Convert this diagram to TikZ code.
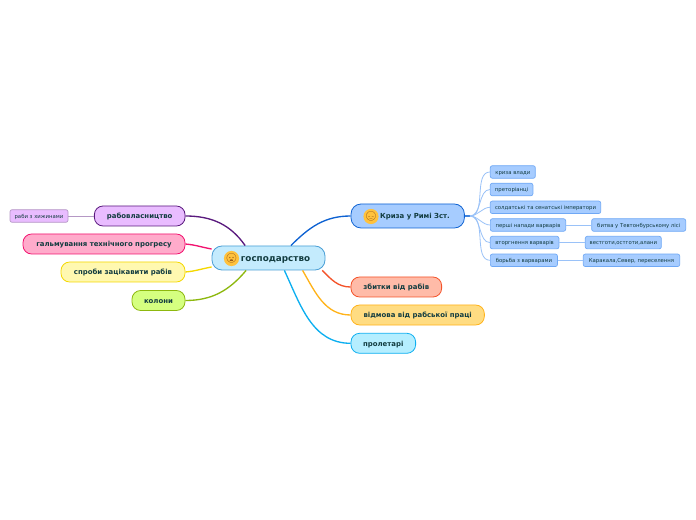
\documentclass[tikz,border=0pt]{standalone}
\usepackage{fontspec}
\setmainfont{DejaVu Sans}
\newfontfamily\emojifont{Noto Emoji}
\definecolor{inktext}{HTML}{123C40}
\definecolor{rootfill}{HTML}{C4EBFD}
\definecolor{rootline}{HTML}{4A9FD6}
\definecolor{purplefill}{HTML}{E9BCFF}
\definecolor{purpleline}{HTML}{5A1A7E}
\definecolor{pinkfill}{HTML}{FFABCB}
\definecolor{pinkline}{HTML}{F2126F}
\definecolor{yellowfill}{HTML}{FFF8B0}
\definecolor{yellowline}{HTML}{F4D800}
\definecolor{greenfill}{HTML}{D5FF80}
\definecolor{greenline}{HTML}{8DB80E}
\definecolor{bluefill}{HTML}{A6CCFF}
\definecolor{blueline}{HTML}{0E62D2}
\definecolor{subline}{HTML}{6FA8F5}
\definecolor{redfill}{HTML}{FFBBA8}
\definecolor{redline}{HTML}{F4532A}
\definecolor{orangefill}{HTML}{FFDC82}
\definecolor{orangeline}{HTML}{FFB31A}
\definecolor{cyanfill}{HTML}{B5EEFF}
\definecolor{cyanline}{HTML}{0DAFF0}
\definecolor{facefill}{HTML}{FFC23D}
\definecolor{faceink}{HTML}{8A4A10}
\tikzset{
	topic/.style = {draw, rounded corners=6.5pt, line width=0.6pt, inner sep=0pt, minimum height=15pt, text height=5.4pt, text depth=0.9pt, text=inktext, font=\bfseries\fontsize{5.2}{6}\selectfont},
	rootbox/.style = {topic, rounded corners=7.5pt, minimum height=18pt, text height=6.5pt, text depth=1.1pt, draw=rootline, fill=rootfill, font=\bfseries\fontsize{6.6}{8}\selectfont},
	leaf/.style = {draw, rounded corners=1.5pt, line width=0.5pt, inner sep=0pt, minimum height=9.4pt, text height=4pt, text depth=0.7pt, text=inktext, font=\fontsize{4}{5}\selectfont},
	face/.style = {circle, fill=facefill, inner sep=0pt, minimum size=8pt, text=faceink, font=\emojifont\fontsize{7}{7}\selectfont},
	branch/.style = {line width=1pt},
	twig/.style = {line width=0.6pt, subline!70}
}
\begin{document}
\begin{tikzpicture}[x=0.75pt, y=-0.75pt]
	\useasboundingbox [fill=white] (0,0) rectangle (696,520);
	% main topics
	\node [rootbox, minimum width=84.75pt] (root) at (268.5,258) {\hspace*{10.5pt}господарство};
	\node [topic, draw=purpleline, fill=purplefill, minimum width=68pt] (owners) at (139.7,216) {рабовласництво};
	\node [topic, draw=pinkline, fill=pinkfill, minimum width=121.5pt] (brake) at (104,244) {гальмування технічного прогресу};
	\node [topic, draw=yellowline, fill=yellowfill, minimum width=93pt] (tries) at (123,272) {спроби зацікавити рабів};
	\node [topic, draw=greenline, fill=greenfill, minimum width=39.75pt] (colons) at (158.5,300.5) {колони};
	\node [topic, draw=blueline, fill=bluefill, minimum width=85pt, minimum height=18pt, rounded corners=7.5pt] (crisis) at (407.7,216) {\hspace*{11pt}Криза у Римі Зст.};
	\node [topic, draw=redline, fill=redfill, minimum width=68pt] (losses) at (396.3,287) {збитки від рабів};
	\node [topic, draw=orangeline, fill=orangefill, minimum width=100pt] (refusal) at (417.7,315) {відмова від рабської праці};
	\node [topic, draw=cyanline, fill=cyanfill, minimum width=48.5pt] (prols) at (383.3,343.3) {пролетарі};
	\node [face] (rootface) at (231.5,258.5) {^^^^^^01f626};
	\node [face] (crisisface) at (371,216.5) {^^^^^^01f61e};
	% leaves
	\node [leaf, draw=purpleline!45, fill=purplefill, minimum width=43.5pt] (huts) at (39,216) {раби з хижинами};
	\node [leaf, draw=subline, fill=bluefill, minimum width=33.75pt] (power) at (512.8,172) {криза влади};
	\node [leaf, draw=subline, fill=bluefill, minimum width=32pt] (guard) at (511.6,189.5) {преторіанці};
	\node [leaf, draw=subline, fill=bluefill, minimum width=82.8pt] (emperors) at (545.5,207.3) {солдатські та сенатські імператори};
	\node [leaf, draw=subline, fill=bluefill, minimum width=56.5pt] (raids) at (528,225) {перші напади варварів};
	\node [leaf, draw=subline, fill=bluefill, minimum width=51.5pt] (invasion) at (524.6,242.6) {вторгнення варварів};
	\node [leaf, draw=subline, fill=bluefill, minimum width=50.3pt] (fight) at (523.9,260.3) {борьба з варварами};
	\node [leaf, draw=subline, fill=bluefill, minimum width=70.5pt] (forest) at (638.7,225) {битва у Тевтонбурському лісі};
	\node [leaf, draw=subline, fill=bluefill, minimum width=57pt] (goths) at (623.3,242.6) {вестготи,остготи,алани};
	\node [leaf, draw=subline, fill=bluefill, minimum width=72.3pt] (settlers) at (631.5,260.3) {Каракала,Север, переселення};
	\coordinate (fan) at (470,216);
	% connectors
	\draw [branch, purpleline] (root.152) to [out=125, in=0] (owners.east);
	\draw [branch, pinkline] (root.171) to [out=170, in=-5] (brake.east);
	\draw [branch, yellowline] (root.189) to [out=190, in=5] (tries.east);
	\draw [branch, greenline] (root.209) to [out=-130, in=0] (colons.east);
	\draw [branch, blueline] (root.29) to [out=45, in=180] (crisis.west);
	\draw [branch, redline] (root.-13) to [out=-45, in=180] (losses.west);
	\draw [branch, orangeline] (root.-20) to [out=-60, in=180] (refusal.west);
	\draw [branch, cyanline] (root.-38) to [out=-65, in=180] (prols.west);
	\draw [twig, purpleline!45] (huts) -- (owners);
	\draw [line width=0.9pt, blueline!80] (crisis.east) -- (fan);
	\foreach \sub in {power, guard, emperors, raids, invasion, fight}
		\draw [twig] (fan) to [out=0, in=180, looseness=0.9] (\sub.west);
	\draw [twig] (raids) -- (forest);
	\draw [twig] (invasion) -- (goths);
	\draw [twig] (fight) -- (settlers);
\end{tikzpicture}
\end{document}
